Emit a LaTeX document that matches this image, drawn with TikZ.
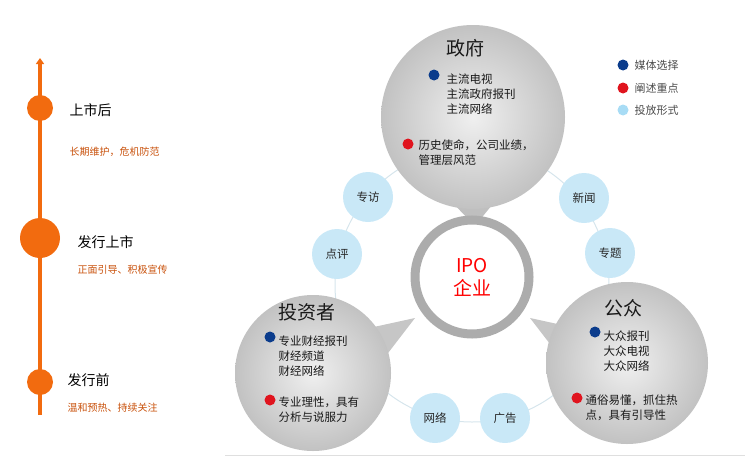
\documentclass[tikz,border=0pt]{standalone}
\usepackage{fontspec}
\setmainfont{Noto Sans CJK SC}
\usetikzlibrary{arrows.meta}
\definecolor{org}{HTML}{F26B0F}
\definecolor{orgtxt}{HTML}{C8500A}
\definecolor{dblue}{HTML}{0B3C8C}
\definecolor{dred}{HTML}{E0141E}
\definecolor{lblue}{HTML}{C9E8F7}
\definecolor{lgd}{HTML}{A8DCF5}
\begin{document}
\begin{tikzpicture}[x=1pt,y=-1pt,
  big/.style={circle,inner sep=0pt,inner color=gray!12,outer color=gray!48},
  small/.style={circle,fill=lblue,minimum size=50pt,inner sep=0pt,font=\fontsize{11.5}{11.5}\selectfont,text=black!85},
  dot/.style={circle,inner sep=0pt,minimum size=11pt},
  txt/.style={font=\fontsize{11.5}{15}\selectfont,text=black!90,align=left,anchor=west},
  ttl/.style={font=\fontsize{19}{19}\selectfont,text=black!90},
  tl/.style={font=\fontsize{14}{14}\selectfont,anchor=west},
  tls/.style={font=\fontsize{10}{10}\selectfont,text=orgtxt,anchor=west}]
\useasboundingbox (0,0) rectangle (754,474);
% ring of links
\draw[lblue!80!gray!60,line width=1pt] (472,285) circle (137);
% pointers
\fill[gray!50] (445,195) -- (475,226) -- (500,195) -- cycle;
\fill[gray!45] (360,330) -- (415,318) -- (375,370) -- cycle;
\fill[gray!45] (585,330) -- (530,318) -- (570,370) -- cycle;
% big circles
\node[big,minimum size=184pt] (gov) at (473,117) {};
\node[big,minimum size=156pt] (inv) at (313,373) {};
\node[big,minimum size=162pt] (pub) at (627,363) {};
% small circles
\node[small] (zf) at (368,197) {专访};
\node[small] (dp) at (337,254) {点评};
\node[small] (xw) at (584,198) {新闻};
\node[small] (zt) at (610,253) {专题};
\node[small] (wl) at (435,418) {网络};
\node[small] (gg) at (505,418) {广告};
% center
\node[circle,draw=gray!65,line width=9pt,fill=white,minimum size=114pt,inner sep=0pt,text=red,font=\fontsize{19}{23}\selectfont,align=center] (ipo) at (472,277) {IPO\\企业};
% gov
\node[ttl] (govt) at (465,48) {政府};
\node[dot,fill=dblue] (g1) at (434,75) {};
\node[txt] (g1t) at (443,94) {主流电视\\主流政府报刊\\主流网络};
\node[dot,fill=dred] (g2) at (408,144) {};
\node[txt] (g2t) at (415,153) {历史使命，公司业绩，\\管理层风范};
% investor
\node[ttl] (invt) at (307,312) {投资者};
\node[dot,fill=dblue] (i1) at (270,337) {};
\node[txt] (i1t) at (275,356) {专业财经报刊\\财经频道\\财经网络};
\node[dot,fill=dred] (i2) at (270,400) {};
\node[txt] (i2t) at (275,410) {专业理性，具有\\分析与说服力};
% public
\node[ttl] (pubt) at (623,308) {公众};
\node[dot,fill=dblue] (p1) at (595,332) {};
\node[txt] (p1t) at (600,351) {大众报刊\\大众电视\\大众网络};
\node[dot,fill=dred] (p2) at (577,398) {};
\node[txt] (p2t) at (582,408) {通俗易懂，抓住热\\点，具有引导性};
% legend
\node[dot,fill=dblue] (l1) at (623,65) {};
\node[txt,font=\fontsize{11}{11}\selectfont,text=black!70] (l1t) at (631,65) {媒体选择};
\node[dot,fill=dred] (l2) at (623,88) {};
\node[txt,font=\fontsize{11}{11}\selectfont,text=black!70] (l2t) at (631,88) {阐述重点};
\node[dot,fill=lgd] (l3) at (623,110) {};
\node[txt,font=\fontsize{11}{11}\selectfont,text=black!70] (l3t) at (631,110) {投放形式};
% bottom line
\draw[gray!25,line width=1pt] (225,455) -- (745,455);
% timeline
\coordinate (top) at (40,58);
\coordinate (bot) at (40,415);
\draw[org,line width=3.5pt,-{Triangle[length=6pt,width=8pt]}] (bot) -- (top);
\node[circle,fill=org,minimum size=26pt,inner sep=0pt] (c1) at (40,108) {};
\node[circle,fill=org,minimum size=40pt,inner sep=0pt] (c2) at (40,238) {};
\node[circle,fill=org,minimum size=26pt,inner sep=0pt] (c3) at (40,382) {};
\node[tl] (t1) at (66,110) {上市后};
\node[tls] (s1) at (66,152) {长期维护，危机防范};
\node[tl] (t2) at (74,242) {发行上市};
\node[tls] (s2) at (74,270) {正面引导、积极宣传};
\node[tl] (t3) at (64,380) {发行前};
\node[tls] (s3) at (64,408) {温和预热、持续关注};
\end{tikzpicture}
\end{document}
